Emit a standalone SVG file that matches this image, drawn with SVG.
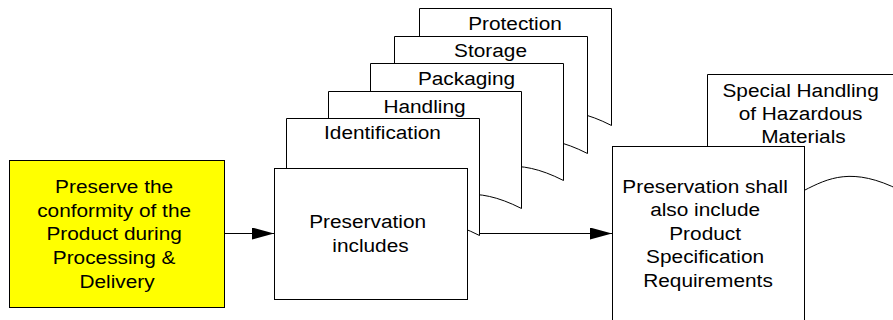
<svg xmlns="http://www.w3.org/2000/svg" width="893" height="320" viewBox="0 0 893 320">
<style>
.box{fill:#fff;stroke:#000;stroke-width:1}
.yel{fill:#ffff00;stroke:#000;stroke-width:1}
.t{font-family:"Liberation Sans",Arial,sans-serif;font-size:18.6px;fill:#000;text-anchor:middle}
.conn{stroke:#000;stroke-width:1;fill:none}
</style>
<defs>
<marker id="arr" markerUnits="userSpaceOnUse" markerWidth="22" markerHeight="12" refX="22" refY="6" orient="auto">
<path d="M0,0 L22,6 L0,12 Z" fill="#000"/>
</marker>
</defs>
<rect width="893" height="320" fill="#fff"/>

<g id="protection">
<path class="box" d="M419.5,8.5 H611.5 V125.5 C515.5,76.5 515.5,174.5 419.5,125.5 Z"/>
<text class="t" transform="translate(515 30) scale(1.12 1)">Protection</text>
</g>
<g id="storage">
<path class="box" d="M394.5,36.5 H587.5 V153.5 C491,104.5 491,202.5 394.5,153.5 Z"/>
<text class="t" transform="translate(490.5 57) scale(1.12 1)">Storage</text>
</g>
<g id="packaging">
<path class="box" d="M370.5,63.5 H563.5 V180.5 C467,131.5 467,229.5 370.5,180.5 Z"/>
<text class="t" transform="translate(466.5 85) scale(1.12 1)">Packaging</text>
</g>
<g id="handling">
<path class="box" d="M328.5,91.5 H521.5 V208.5 C425,159.5 425,257.5 328.5,208.5 Z"/>
<text class="t" transform="translate(424.5 113) scale(1.12 1)">Handling</text>
</g>
<g id="identification">
<path class="box" d="M286.5,118.5 H479.5 V235.5 C383,186.5 383,284.5 286.5,235.5 Z"/>
<text class="t" transform="translate(382.5 139) scale(1.12 1)">Identification</text>
</g>

<g id="preserve">
<rect class="yel" x="9.5" y="160.5" width="215" height="147"/>
<text class="t" transform="translate(117 0) scale(1.12 1)">
<tspan x="0" y="193">Preserve the</tspan>
<tspan x="0" y="216.7">conformity of the</tspan>
<tspan x="0" y="240.4">Product during</tspan>
<tspan x="0" y="264.1">Processing &amp;</tspan>
<tspan x="0" y="287.8">Delivery</tspan>
</text>
</g>

<g id="includes">
<rect class="box" x="274.5" y="168.5" width="193" height="131"/>
<text class="t" transform="translate(370.5 0) scale(1.12 1)">
<tspan x="0" y="228">Preservation</tspan>
<tspan x="0" y="252">includes</tspan>
</text>
</g>

<g id="hazardous">
<path class="box" d="M707.5,74.5 H900.5 V190.5 C804,141.5 804,239.5 707.5,190.5 Z"/>
<text class="t" transform="translate(803.5 0) scale(1.12 1)">
<tspan x="0" y="97">Special Handling</tspan>
<tspan x="0" y="120">of Hazardous</tspan>
<tspan x="0" y="143">Materials</tspan>
</text>
</g>

<g id="specification">
<rect class="box" x="612.5" y="146.5" width="192" height="190"/>
<text class="t" transform="translate(708 0) scale(1.12 1)">
<tspan x="0" y="193">Preservation shall</tspan>
<tspan x="0" y="216.5">also include</tspan>
<tspan x="0" y="240">Product</tspan>
<tspan x="0" y="263.5">Specification</tspan>
<tspan x="0" y="287">Requirements</tspan>
</text>
</g>

<g id="connectors">
<line class="conn" x1="225" y1="233.5" x2="274" y2="233.5" marker-end="url(#arr)"/>
<line class="conn" x1="479" y1="233.5" x2="612" y2="233.5" marker-end="url(#arr)"/>
</g>
</svg>
